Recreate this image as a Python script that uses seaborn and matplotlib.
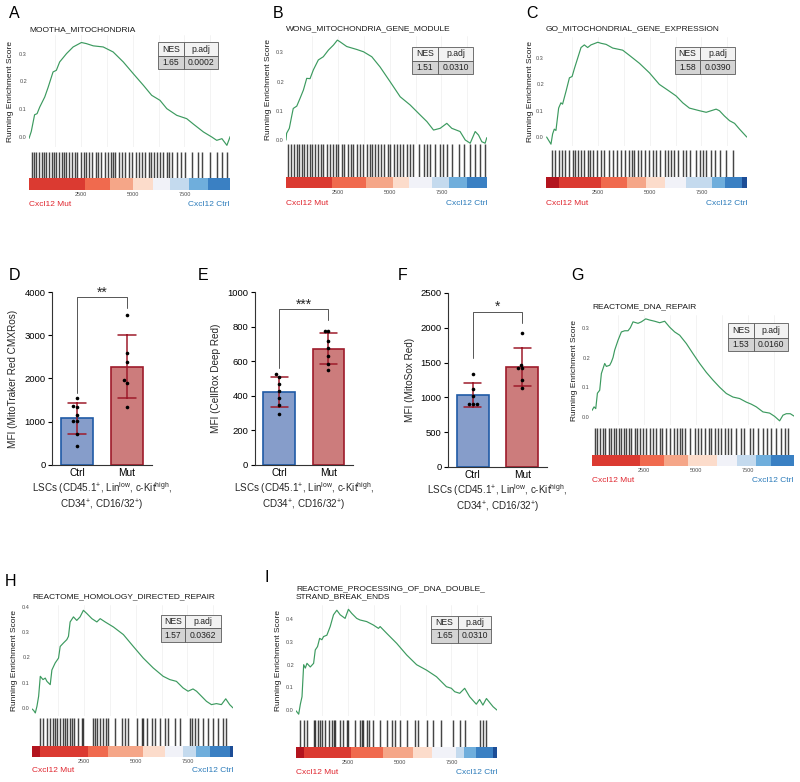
import numpy as np
import pandas as pd
import matplotlib
matplotlib.use("Agg")
import matplotlib.pyplot as plt
import seaborn as sns
from matplotlib.patches import Rectangle

# ------------------------------------------------------------------ data
n_genes = 9700

A_title = "MOOTHA_MITOCHONDRIA"
A_nes, A_padj = "1.65", "0.0002"
A_rank = [0,110,270,390,520,760,920,1160,1320,1480,1810,2130,2530,2770,3100,3580,4060,4550,5030,5520,5920,6320,6650,7130,7610,7940,8420,8820,9060,9310,9550,9710]
A_es = [-0.005,0.02,0.08,0.084,0.108,0.144,0.178,0.234,0.24,0.27,0.30,0.324,0.34,0.336,0.328,0.324,0.306,0.27,0.228,0.186,0.15,0.132,0.102,0.078,0.066,0.046,0.018,0.0,-0.012,-0.006,-0.03,0.002]
A_hits = [130,240,350,480,610,720,830,960,1090,1200,1310,1440,1570,1680,1800,1920,2080,2210,2340,2490,2650,2770,2890,3050,3210,3330,3490,3660,3820,3940,4040,4170,4330,4490,4650,4810,4970,5180,5290,5450,5580,5770,5900,6010,6170,6330,6490,6650,6760,6890,7130,7340,7530,7850,8140,8330,8740,9060,9300,9540]
A_edges = [0,2700,3910,5030,6000,6800,7710,8650,9700]
A_cols = [1,2,3,4,5,6,7,8]

B_title = "WONG_MITOCHONDRIA_GENE_MODULE"
B_nes, B_padj = "1.51", "0.0310"
B_rank = [0,30,160,270,350,520,680,840,1000,1160,1320,1560,1800,2050,2290,2480,2610,2930,3410,3740,4140,4540,5020,5510,5990,6470,6800,7120,7440,7760,8000,8400,8650,8890,9130,9290,9450,9610,9690]
B_es = [0.0,0.023,0.04,0.08,0.108,0.116,0.143,0.171,0.211,0.21,0.24,0.274,0.285,0.308,0.325,0.342,0.336,0.32,0.31,0.302,0.285,0.25,0.2,0.148,0.12,0.086,0.063,0.034,0.04,0.057,0.04,0.029,0.0,-0.011,0.029,0.017,-0.006,-0.011,0.008]
B_hits = [110,240,370,520,630,760,890,1020,1160,1270,1400,1560,1690,1800,1970,2130,2290,2400,2530,2690,2820,2980,3140,3250,3420,3580,3740,3900,4060,4170,4300,4460,4590,4750,4910,5040,5190,5350,5510,5670,5830,5990,6150,6400,6640,6800,6960,7200,7440,7600,7770,8010,8330,8570,8890,9140,9380,9620]
B_edges = [0,2210,3840,5170,5950,7040,7850,8730,9700]
B_cols = [1,2,3,4,5,6,7,8]

C_title = "GO_MITOCHONDRIAL_GENE_EXPRESSION"
C_nes, C_padj = "1.58", "0.0390"
C_rank = [30,240,320,400,480,610,720,800,970,1130,1260,1370,1530,1690,1850,2010,2170,2500,2660,2900,3220,3700,4030,4510,4990,5470,5880,6280,6600,6920,7410,7730,7970,8210,8370,8610,8860,9100,9340,9690]
C_es = [0.0,-0.027,0.012,0.03,0.025,0.11,0.13,0.125,0.175,0.225,0.23,0.26,0.30,0.34,0.35,0.34,0.35,0.36,0.356,0.352,0.338,0.33,0.31,0.28,0.244,0.20,0.178,0.156,0.13,0.11,0.10,0.094,0.10,0.106,0.10,0.08,0.062,0.052,0.03,0.0]
C_hits = [290,450,610,770,930,1130,1290,1420,1530,1690,1850,2010,2130,2260,2450,2660,2820,3060,3250,3420,3630,3830,4000,4160,4270,4430,4590,4800,4990,5160,5320,5510,5720,5880,6040,6200,6360,6610,6770,6930,7250,7410,7570,7730,7970,8140,8380,8700,9020]
C_edges = [0,640,2670,3930,4840,5720,6770,8000,8620,9460,9700]
C_cols = [0,1,2,3,4,5,6,7,8,9]

G_title = "REACTOME_DNA_REPAIR"
G_nes, G_padj = "1.53", "0.0160"
G_rank = [0,100,180,260,370,450,530,610,690,850,930,1010,1090,1250,1410,1570,1730,1840,1970,2210,2370,2580,2770,3010,3250,3490,3730,3970,4210,4530,4850,5170,5490,5810,6130,6450,6770,7090,7410,7650,7890,8210,8530,8770,9010,9170,9330,9520,9700]
G_es = [0.022,0.034,0.028,0.08,0.09,0.146,0.163,0.18,0.17,0.174,0.185,0.2,0.225,0.258,0.286,0.29,0.29,0.30,0.32,0.315,0.32,0.33,0.326,0.322,0.317,0.322,0.302,0.286,0.275,0.247,0.213,0.18,0.15,0.124,0.10,0.079,0.067,0.062,0.05,0.043,0.034,0.017,0.013,0.002,-0.013,0.006,0.011,0.011,0.003]
G_hits = [130,260,370,530,640,800,930,1060,1170,1280,1410,1540,1650,1780,1890,2050,2180,2290,2450,2610,2770,2930,3090,3250,3360,3570,3730,3940,4100,4210,4320,4450,4690,4930,5090,5250,5410,5600,5730,5890,6050,6210,6370,6530,6690,6930,7170,7300,7570,7730,7970,8210,8420,8610,8850,9090,9250,9410]
G_edges = [0,2310,3460,4590,5980,6950,7890,8600,9700]
G_cols = [1,2,3,4,5,6,7,8]

H_title = "REACTOME_HOMOLOGY_DIRECTED_REPAIR"
H_nes, H_padj = "1.57", "0.0362"
H_rank = [0,80,160,240,320,400,530,640,720,880,960,1120,1280,1360,1520,1680,1760,1840,2000,2160,2320,2480,2650,2890,3130,3290,3530,3930,4410,4890,5370,5850,6330,6650,6970,7290,7530,7770,7940,8180,8420,8660,8900,9140,9350,9540,9700]
H_es = [-0.004,-0.01,-0.02,0.007,0.046,0.125,0.112,0.118,0.105,0.092,0.15,0.178,0.197,0.243,0.257,0.27,0.283,0.34,0.36,0.346,0.36,0.386,0.373,0.353,0.34,0.353,0.34,0.32,0.29,0.243,0.197,0.158,0.125,0.112,0.105,0.079,0.066,0.075,0.066,0.046,0.026,0.013,0.017,0.013,0.036,0.013,0.0]
H_hits = [370,530,720,880,1010,1120,1230,1360,1490,1600,1680,1810,1920,2040,2240,2400,2480,2930,3050,3160,3290,3450,3570,3690,4010,4330,4490,4650,5050,5290,5370,5530,5770,5930,6170,6410,6570,6890,7130,7610,7740,7850,8010,8250,8490,8740,8980,9220,9380]
H_edges = [0,400,2680,3690,5370,6410,7270,7930,8580,9550,9700]
H_cols = [0,1,2,3,4,5,6,7,8,9]

I_title = "REACTOME_PROCESSING_OF_DNA_DOUBLE_\nSTRAND_BREAK_ENDS"
I_nes, I_padj = "1.65", "0.0310"
I_rank = [0,130,210,290,370,450,530,690,850,930,1040,1140,1250,1330,1490,1650,1810,1970,2130,2370,2530,2690,2930,3090,3410,3730,3980,4060,4380,4860,5340,5820,6300,6780,7020,7260,7500,7660,7900,8140,8380,8700,8860,9020,9190,9510,9700]
I_es = [-0.003,-0.018,0.026,0.059,0.2,0.185,0.206,0.19,0.206,0.265,0.28,0.316,0.31,0.324,0.33,0.368,0.42,0.44,0.42,0.404,0.444,0.426,0.404,0.397,0.39,0.375,0.36,0.368,0.338,0.294,0.243,0.2,0.176,0.147,0.125,0.103,0.096,0.081,0.074,0.096,0.059,0.026,0.047,0.022,0.051,0.015,0.0]
I_hits = [210,370,530,850,930,1040,1170,1250,1410,1570,1730,1810,1890,2130,2260,2480,2530,2850,3090,3170,3250,3410,3540,3740,4060,4380,4620,4780,5020,5340,5740,5900,6300,6620,7020,7580,7900,8140,8860,9020,9180]
I_edges = [0,370,2650,4180,5660,6540,7740,8100,8710,9500,9700]
I_cols = [0,1,2,3,4,5,6,7,8,9]

group_labels = ["Ctrl", "Mut"]
D_ctrl = [1550, 1370, 1350, 1150, 1020, 1010, 710, 450]
D_mut = [3460, 2600, 2390, 1960, 1900, 1330]
E_ctrl = [525, 510, 470, 430, 385, 345, 295]
E_mut = [777, 775, 717, 679, 629, 583, 548]
F_ctrl = [1330, 1120, 1020, 910, 910, 910]
F_mut = [1925, 1470, 1422, 1422, 1255, 1135]

# ------------------------------------------------------------------ style
sns.set_theme(style="white")
plt.rcParams["font.family"] = ["Liberation Sans", "DejaVu Sans"]
plt.rcParams["mathtext.fontset"] = "custom"
plt.rcParams["mathtext.rm"] = "Liberation Sans"
plt.rcParams["mathtext.it"] = "Liberation Sans:italic"
plt.rcParams["mathtext.bf"] = "Liberation Sans:bold"

W, H = 800, 782
fig = plt.figure(figsize=(8, 7.82), dpi=100)
fig.patch.set_facecolor("white")

def add_ax(x0, y0, x1, y1):
    return fig.add_axes([x0 / W, 1 - y1 / H, (x1 - x0) / W, (y1 - y0) / H])

def ftext(x, y, s, **kw):
    fig.text(x / W, 1 - y / H, s, **kw)

block_colors = ["#B3141E", "#DB3A31", "#F06A4E", "#F5A688", "#FCDCCB",
                "#F1F2F8", "#C4DAEE", "#6FAEDC", "#3A80C3", "#1C4D96"]
line_green = "#3C9A5F"
mut_red = "#E0262F"
ctrl_blue = "#2B7BBA"

def draw_table(x0, y0, x1, y1, xs, ys, nes, padj):
    tr = fig.transFigure
    def rect(a, b, c, d, fc):
        fig.add_artist(Rectangle((a / W, 1 - d / H), (c - a) / W, (d - b) / H,
                                 transform=tr, facecolor=fc, edgecolor="#5a5a5a", lw=0.6))
    rect(x0, y0, xs, ys, "#F2F2F2")
    rect(xs, y0, x1, ys, "#F2F2F2")
    rect(x0, ys, xs, y1, "#D4D4D4")
    rect(xs, ys, x1, y1, "#D4D4D4")
    ftext((x0 + xs) / 2, (y0 + ys) / 2, "NES", ha="center", va="center", fontsize=6.2, color="#222222")
    ftext((xs + x1) / 2, (y0 + ys) / 2, "p.adj", ha="center", va="center", fontsize=6.2, color="#222222")
    ftext((x0 + xs) / 2, (ys + y1) / 2, nes, ha="center", va="center", fontsize=6.2, color="#222222")
    ftext((xs + x1) / 2, (ys + y1) / 2, padj, ha="center", va="center", fontsize=6.2, color="#222222")

def gsea_panel(rank, es, hits, edges, cols, title, nes, padj, lay):
    left, right = lay["x"]
    ax = add_ax(left, lay["es"][0], right, lay["es"][1])
    for gx in range(1250, n_genes, 1250):
        ax.axvline(gx, color="#EFEFEF", lw=0.5, zorder=0)
    sns.lineplot(x=rank, y=es, ax=ax, color=line_green, lw=0.85, sort=False, estimator=None)
    ax.set_xlim(0, n_genes)
    ax.set_ylim(*lay["ylim"])
    ax.set_yticks(lay["yticks"])
    ax.set_yticklabels([f"{t:.1f}" for t in lay["yticks"]])
    ax.set_xticks([])
    ax.tick_params(axis="y", labelsize=4, length=0, pad=1.5, colors="#4d4d4d")
    ax.set_xlabel("")
    ax.set_ylabel("")
    for s in ax.spines.values():
        s.set_visible(False)
    ax.patch.set_alpha(0)

    axh = add_ax(left, lay["hits"][0], right, lay["hits"][1])
    axh.vlines(hits, 0, 1, color="#111111", lw=1.05, alpha=0.78)
    axh.set_xlim(0, n_genes)
    axh.set_ylim(0, 1)
    axh.axis("off")

    axc = add_ax(left, lay["cb"][0], right, lay["cb"][1])
    axc.bar(edges[:-1], 1, width=np.diff(edges), align="edge",
            color=[block_colors[c] for c in cols], linewidth=0)
    axc.set_xlim(0, n_genes)
    axc.set_ylim(0, 1)
    axc.set_yticks([])
    axc.set_xticks([2500, 5000, 7500])
    axc.tick_params(axis="x", labelsize=4, length=0, pad=1.2, colors="#4d4d4d")
    for s in axc.spines.values():
        s.set_visible(False)

    ftext(left, lay["lab"], "Cxcl12 Mut", ha="left", va="center", fontsize=6, color=mut_red)
    ftext(right, lay["lab"], "Cxcl12 Ctrl", ha="right", va="center", fontsize=6, color=ctrl_blue)
    ftext(left, lay["title"], title, ha="left", va="center", fontsize=6, color="#1a1a1a",
          linespacing=1.1)
    ftext(lay["ylab"], (lay["es"][0] + lay["es"][1]) / 2, "Running Enrichment Score",
          rotation=90, ha="center", va="center", fontsize=6, color="#1a1a1a")
    draw_table(*lay["table"], nes, padj)

t3 = [0.0, 0.1, 0.2, 0.3]
t4 = [0.0, 0.1, 0.2, 0.3, 0.4]
gsea_panel(A_rank, A_es, A_hits, A_edges, A_cols, A_title, A_nes, A_padj,
           dict(x=(29, 230), es=(35, 147), ylim=(-0.036, 0.367), yticks=t3, hits=(152, 178),
                cb=(178, 190), lab=205, title=30, ylab=11, table=(158, 42, 218, 69, 184, 56)))
gsea_panel(B_rank, B_es, B_hits, B_edges, B_cols, B_title, B_nes, B_padj,
           dict(x=(286, 487), es=(36, 143.5), ylim=(-0.012, 0.356), yticks=t3, hits=(144, 177),
                cb=(177, 188), lab=203, title=29, ylab=269, table=(412, 47, 473, 74, 438, 61)))
gsea_panel(C_rank, C_es, C_hits, C_edges, C_cols, C_title, C_nes, C_padj,
           dict(x=(546, 747), es=(37, 146), ylim=(-0.034, 0.38), yticks=t3, hits=(150, 177),
                cb=(177, 188), lab=203, title=29, ylab=530, table=(675, 47, 735, 74, 700, 60)))
gsea_panel(G_rank, G_es, G_hits, G_edges, G_cols, G_title, G_nes, G_padj,
           dict(x=(592, 794), es=(315, 425), ylim=(-0.027, 0.343), yticks=t3, hits=(428, 455),
                cb=(455, 466), lab=480, title=307, ylab=575, table=(728, 323, 788, 351, 754, 338)))
gsea_panel(H_rank, H_es, H_hits, H_edges, H_cols, H_title, H_nes, H_padj,
           dict(x=(32, 233), es=(605, 716), ylim=(-0.032, 0.407), yticks=t4, hits=(718, 746),
                cb=(746, 757), lab=771, title=597, ylab=14, table=(161, 615, 221, 642, 185, 628)))
gsea_panel(I_rank, I_es, I_hits, I_edges, I_cols, I_title, I_nes, I_padj,
           dict(x=(296, 497), es=(605, 716), ylim=(-0.026, 0.463), yticks=t4, hits=(720, 747),
                cb=(747, 758), lab=773, title=593, ylab=278, table=(431, 616, 491, 643, 458, 629)))

# ------------------------------------------------------------------ bar panels
ctrl_fill, ctrl_edge = "#7B9AD5", "#1F5AA6"
mut_fill, mut_edge = "#D96F6F", "#9E1B2B"
xlabel_txt = ("LSCs (CD45.1$^{+}$, Lin$^{\\mathrm{low}}$, c-Kit$^{\\mathrm{high}}$,\n"
              "CD34$^{+}$, CD16/32$^{+}$)")

def bar_panel(ctrl, mut, box, ymax, ystep, ylabel, ylab_x, stars, br):
    x0, y0, x1, y1 = box
    ax = add_ax(x0, y0, x1, y1)
    df = pd.DataFrame({"group": [group_labels[0]] * len(ctrl) + [group_labels[1]] * len(mut),
                       "val": list(ctrl) + list(mut)})
    sns.barplot(data=df, x="group", y="val", order=group_labels, hue="group",
                hue_order=group_labels, palette=[ctrl_fill, mut_fill], errorbar="sd",
                capsize=0.35, width=0.64, linewidth=1.2, err_kws={"linewidth": 1.1},
                legend=False, ax=ax)
    for p in ax.patches:
        cx = p.get_x() + p.get_width() / 2
        p.set_edgecolor(ctrl_edge if cx < 0.5 else mut_edge)
    for ln in ax.lines:
        xd = np.asarray(ln.get_xdata(), dtype=float)
        ln.set_color(ctrl_edge if xd.mean() < 0.5 else mut_edge)
        ln.set_zorder(3)
    sns.swarmplot(data=df, x="group", y="val", order=group_labels, color="black",
                  size=2.6, ax=ax, zorder=4)
    ax.set_xlim(-0.5, 1.5)
    ax.set_ylim(0, ymax)
    ax.set_yticks(np.arange(0, ymax + 1, ystep))
    ax.tick_params(axis="y", labelsize=6.8, length=3, width=0.8, pad=1.5, left=True, colors="black")
    ax.tick_params(axis="x", labelsize=7.3, length=0, pad=2.5, colors="black")
    ax.set_xlabel("")
    ax.set_ylabel("")
    sns.despine(ax=ax)
    for s in ("left", "bottom"):
        ax.spines[s].set_color("#333333")
        ax.spines[s].set_linewidth(0.8)
    ax.patch.set_alpha(0)
    tr = ax.get_xaxis_transform()
    top, lft, rgt = br
    ax.plot([0, 0, 1, 1], [lft, top, top, rgt], color="#555555", lw=0.7, transform=tr,
            clip_on=False)
    ax.text(0.5, top + 0.005, stars, ha="center", va="baseline", fontsize=10, transform=tr)
    ftext(ylab_x, (y0 + y1) / 2, ylabel, rotation=90, ha="center", va="center", fontsize=7.2)
    ftext((x0 + x1) / 2, 496.5 + (y1 - 465), xlabel_txt, ha="center", va="center",
          fontsize=7.1, linespacing=1.2)

bar_panel(D_ctrl, D_mut, (52, 292, 152, 465), 4000, 1000, "MFI (MitoTraker Red CMXRos)", 13,
          "**", (0.97, 0.416, 0.908))
bar_panel(E_ctrl, E_mut, (254.5, 292, 353, 465), 1000, 200, "MFI (CellRox Deep Red)", 216,
          "***", (0.90, 0.561, 0.838))
bar_panel(F_ctrl, F_mut, (448, 293, 547, 467), 2500, 500, "MFI (MitoSox Red)", 410,
          "*", (0.89, 0.626, 0.828))

# ------------------------------------------------------------------ panel letters
for letter, (lx, ly) in {"A": (14, 14), "B": (278, 13), "C": (532, 13), "D": (14, 275),
                         "E": (203, 275), "F": (403, 275), "G": (578, 275),
                         "H": (11, 581), "I": (267, 578)}.items():
    ftext(lx, ly, letter, ha="center", va="center", fontsize=11.5, color="black")

fig.savefig("out.png", dpi=100, facecolor="white")
